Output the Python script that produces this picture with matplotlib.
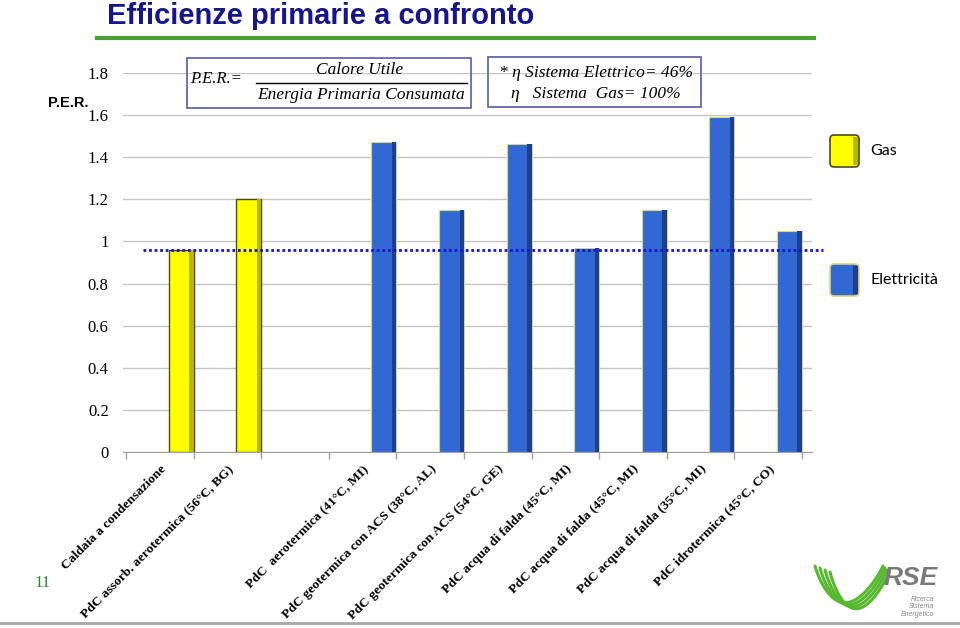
import numpy as np
import matplotlib
matplotlib.use("Agg")
import matplotlib.pyplot as plt
from matplotlib.patches import Rectangle, FancyBboxPatch

# data
categories = [
    "Caldaia a condensazione",
    "PdC assorb. aerotermica (56°C, BG)",
    "",
    "PdC  aerotermica (41°C, MI)",
    "PdC geotermica con ACS (38°C, AL)",
    "PdC geotermica con ACS (54°C, GE)",
    "PdC acqua di falda (45°C, MI)",
    "PdC acqua di falda (45°C, MI)",
    "PdC acqua di falda (35°C, MI)",
    "PdC idrotermica (45°C, CO)",
]
gas = [0.96, 1.20, np.nan, np.nan, np.nan, np.nan, np.nan, np.nan, np.nan, np.nan]
elettricita = [np.nan, np.nan, np.nan, 1.47, 1.15, 1.465, 0.97, 1.15, 1.59, 1.05]
ref_line = 0.96
yticks = [0, 0.2, 0.4, 0.6, 0.8, 1.0, 1.2, 1.4, 1.6, 1.8]
ytick_labels = ["0", "0.2", "0.4", "0.6", "0.8", "1", "1.2", "1.4", "1.6", "1.8"]

W, H = 960, 628
fig = plt.figure(figsize=(W / 100, H / 100), dpi=100)

# main chart, placed in pixel terms
l, r, t, b = 122.6, 812, 73, 452
ax = fig.add_axes([l / W, 1 - b / H, (r - l) / W, (b - t) / H])
ax.set_xlim(-0.55, 9.65)
ax.set_ylim(0, 1.8)

x = np.arange(len(categories))
bw = 0.37
left = x + 0.13
shade = 0.065

ax.bar(left, gas, width=bw, align="edge", color="#ffff00",
       edgecolor="#4a4a2a", linewidth=1.0, zorder=3)
ax.bar(left + bw - shade, gas, width=shade, align="edge", color="#b8b800",
       linewidth=0, zorder=4)
ax.bar(left, elettricita, width=bw, align="edge", color="#3268d4",
       edgecolor="#d8d870", linewidth=0.8, zorder=3)
ax.bar(left + bw - shade, elettricita, width=shade, align="edge", color="#1c3f92",
       linewidth=0, zorder=4)

ax.plot([-0.25, 9.82], [ref_line, ref_line], color="#1414c8", linestyle=(0, (1, 1)),
        linewidth=2.0, clip_on=False, zorder=5)

ax.set_yticks(yticks)
ax.set_yticklabels(ytick_labels, family="Liberation Serif", fontsize=12)
ax.tick_params(axis="y", length=0, pad=10)
ax.yaxis.grid(True, color="#c4c4c4", linewidth=1.0, zorder=0)
ax.set_axisbelow(True)

ax.set_xticks(x)
ax.set_xticklabels(categories, rotation=45, ha="right", rotation_mode="anchor",
                   family="Liberation Serif", fontweight="bold", fontsize=9.7)
ax.tick_params(axis="x", which="major", length=0, pad=8)
ax.set_xticks(np.arange(-0.5, 10, 1.0), minor=True)
ax.tick_params(axis="x", which="minor", length=5, color="#a0a0a0", width=1)

for s in ["left", "right", "top"]:
    ax.spines[s].set_visible(False)
ax.spines["bottom"].set_color("#a0a0a0")

# overlay in pixel coordinates for slide decorations
ov = fig.add_axes([0, 0, 1, 1], zorder=10)
ov.set_xlim(0, W)
ov.set_ylim(H, 0)
ov.axis("off")
ov.patch.set_alpha(0)

ov.text(107, 16, "Efficienze primarie a confronto", fontsize=21, fontweight="bold",
        color="#16168a", family="Liberation Sans", va="center", ha="left")
ov.plot([97, 814], [37.5, 37.5], color="#4c9e34", linewidth=3)

ov.text(48, 103, "P.E.R.", fontsize=10.5, fontweight="bold", family="Liberation Sans",
        va="center", ha="left")

box_c = "#5a5aa8"
ov.add_patch(Rectangle((187, 58), 284, 50, fill=False, edgecolor=box_c, linewidth=1.2))
ov.text(190, 79, "P.E.R.=", family="Liberation Serif", style="italic", fontsize=12,
        va="center", ha="left")
ov.text(360, 70, "Calore Utile", family="Liberation Serif", style="italic", fontsize=12.5,
        va="center", ha="center")
ov.plot([256, 467], [83, 83], color="black", linewidth=1)
ov.text(361, 95, "Energia Primaria Consumata", family="Liberation Serif", style="italic",
        fontsize=12.5, va="center", ha="center")

ov.add_patch(Rectangle((488, 57), 213, 50, fill=False, edgecolor=box_c, linewidth=1.2))
ov.text(596, 73, "* η Sistema Elettrico= 46%", family="Liberation Serif", style="italic",
        fontsize=12.5, va="center", ha="center")
ov.text(596, 94, "η   Sistema  Gas= 100%", family="Liberation Serif", style="italic",
        fontsize=12.5, va="center", ha="center")

# legend
ov.add_patch(FancyBboxPatch((830, 135), 29, 32, boxstyle="round,pad=0,rounding_size=4",
                            facecolor="#ffff00", edgecolor="#4a4a2a", linewidth=1.2))
ov.add_patch(Rectangle((853, 137), 5, 28, facecolor="#b8b800", linewidth=0))
ov.text(870, 151, "Gas", family="Lato", fontsize=11.5, va="center", ha="left")
ov.add_patch(FancyBboxPatch((830, 264), 29, 32, boxstyle="round,pad=0,rounding_size=4",
                            facecolor="#3268d4", edgecolor="#d8d870", linewidth=1.2))
ov.add_patch(Rectangle((853, 266), 5, 28, facecolor="#1c3f92", linewidth=0))
ov.text(871, 280, "Elettricità", family="Lato", fontsize=11.5, va="center", ha="left")

ov.text(43, 583, "11", family="Liberation Serif", fontsize=12, color="#2a8a2a",
        va="center", ha="center")

# bottom rule and logo
ov.plot([0, W], [623, 623], color="#a8a8a8", linewidth=2)
for k in range(4):
    s = np.linspace(0, 1, 40)
    xs = 815 + k * 5 + s * (68 - k * 3)
    ys = 566 + k * 2 + 44 * (1 - (2 * s - 1) ** 2) ** 0.9 * (1 - 0.35 * s)
    ov.plot(xs, ys, color="#56b82e", linewidth=2.2, solid_capstyle="round")
ov.text(911, 578, "RSE", family="Liberation Sans", fontweight="bold", style="italic",
        fontsize=19, color="#7a7a7a", va="center", ha="center")
ov.text(934, 607, "Ricerca\nSistema\nEnergetico", family="Liberation Sans", style="italic",
        fontsize=5, color="#8a8a8a", va="center", ha="right", linespacing=1.1)

fig.savefig("out.png", dpi=100)
